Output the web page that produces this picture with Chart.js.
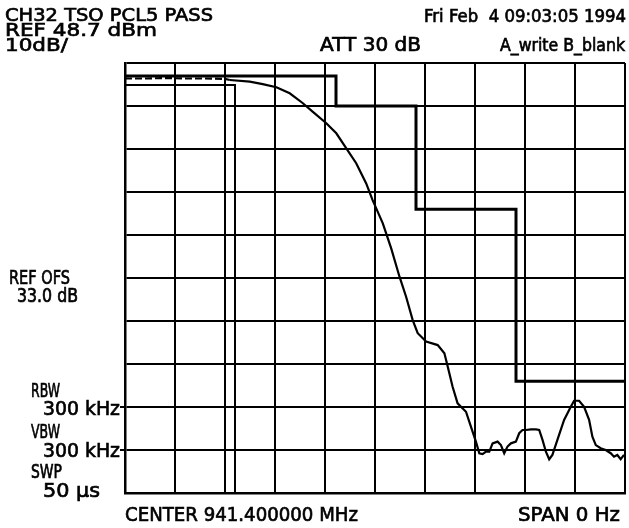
<!DOCTYPE html>
<html>
<head>
<meta charset="utf-8">
<script src="https://cdn.jsdelivr.net/npm/chart.js@4"></script>
<style>
  html, body { margin: 0; padding: 0; background: #fff; }
  canvas { display: block; }
</style>
</head>
<body>
<canvas id="saChart" width="629" height="528"></canvas>
<script>
// zero span sweep: x is time in microseconds (50 us sweep), y is level in dBm
const refLevel = 48.7;
const dbPerDiv = 10;
const sweepUs = 50;

const timeUs = [0, 2, 4, 6, 8, 10, 10.48, 12.48, 13.77, 15.14, 16.47, 17.76, 18.76, 20.13, 21.13, 22.13,
    23.12, 24.12, 24.75, 25.78, 26.62, 27.45, 28.11, 28.77, 29.27, 30.11, 31.27, 31.94, 32.27, 32.76,
    33.26, 34.1, 34.6, 35.1, 35.43, 35.76, 36.1, 36.43, 36.76, 37.26, 37.59, 37.92, 38.25, 38.59,
    39.09, 39.42, 39.75, 40.09, 40.59, 41.09, 41.42, 41.75, 42.09, 42.42, 42.74, 43.24, 43.91, 44.58,
    44.91, 45.41, 45.91, 46.41, 46.74, 47.08, 47.57, 48.07, 48.57, 48.9, 49.23, 49.57, 49.9];
const traceDbm = [45.1, 45.1, 45.2, 45.1, 45.1, 45.0, 44.75, 44.35, 43.8, 43.05, 41.65, 39.4, 37.4, 34.7, 32.35, 28.85,
    25.4, 20.7, 16.85, 11.4, 5.6, -1.0, -5.65, -11.1, -14.15, -16.1, -16.9, -18.8, -21.9, -26.6,
    -30.45, -32.4, -35.9, -39.4, -42.05, -42.25, -41.7, -41.7, -39.75, -39.35, -40.15, -42.05, -40.5, -39.75,
    -39.35, -37.4, -36.65, -36.65, -36.5, -36.5, -36.65, -38.95, -41.7, -43.45, -42.45, -38.95, -34.3, -31.25,
    -29.85, -29.85, -31.25, -34.3, -38.2, -40.15, -40.9, -41.3, -42.05, -42.85, -42.45, -43.45, -42.45];

// limit masks
const upperLimitUs = [0, 21.1, 21.1, 29.1, 29.1, 39.1, 39.1, 50];
const upperLimitDbm = [45.7, 45.7, 38.7, 38.7, 14.7, 14.7, -25.3, -25.3];
const lowerLimitUs = [0, 11.0, 11.0];
const lowerLimitDbm = [43.6, 43.6, -51.3];

// annotation text: [text, x, baseline, size, width, align]
const annotations = [
    ["CH32 TSO PCL5 PASS", 5, 21, 18.5, 208, "left"],
    ["REF 48.7 dBm", 5, 36, 18.5, 152, "left"],
    ["10dB/", 5, 51, 18.5, 63, "left"],
    ["Fri Feb  4 09:03:05 1994", 626, 22, 18, 202, "right"],
    ["ATT 30 dB", 320, 51, 19.5, 101, "left"],
    ["A_write B_blank", 625, 51, 18, 125, "right"],
    ["REF OFS", 9, 284, 19, 61, "left"],
    ["33.0 dB", 17, 302, 19, 61, "left"],
    ["RBW", 31, 397, 19, 29, "left"],
    ["300 kHz", 43, 415, 20, 77, "left"],
    ["VBW", 31, 438, 19, 29, "left"],
    ["300 kHz", 43, 457, 20, 77, "left"],
    ["SWP", 31, 478, 19, 31, "left"],
    ["50 \u00b5s", 43, 497, 20, 57, "left"],
    ["CENTER 941.400000 MHz", 125, 521, 20, 233, "left"],
    ["SPAN 0 Hz", 620, 521, 20, 102, "right"]
];

const toPoints = (xs, ys) => xs.map((x, i) => ({ x: x, y: ys[i] }));

const textPlugin = {
    id: "hpText",
    afterDraw(chart) {
        const ctx = chart.ctx;
        ctx.save();
        ctx.fillStyle = "#000";
        ctx.strokeStyle = "#000";
        ctx.textBaseline = "alphabetic";
        annotations.forEach(([str, x, y, size, width, align]) => {
            ctx.font = size + "px 'DejaVu Sans'";
            const natural = ctx.measureText(str).width;
            const sx = width / natural;
            ctx.save();
            ctx.translate(align === "right" ? x - width : x, y);
            ctx.scale(sx, 1);
            ctx.textAlign = "left";
            ctx.lineWidth = 0.7;
            ctx.fillText(str, 0, 0);
            ctx.strokeText(str, 0, 0);
            ctx.restore();
        });
        ctx.restore();
    }
};

document.addEventListener("DOMContentLoaded", () => {
    const ctx = document.getElementById("saChart").getContext("2d");
    new Chart(ctx, {
        type: "line",
        data: {
            datasets: [
                {
                    label: "Upper limit",
                    data: toPoints(upperLimitUs, upperLimitDbm),
                    borderColor: "#000",
                    borderWidth: 3,
                    pointRadius: 0,
                    fill: false,
                },
                {
                    label: "Lower limit",
                    data: toPoints(lowerLimitUs, lowerLimitDbm),
                    borderColor: "#000",
                    borderWidth: 2,
                    pointRadius: 0,
                    fill: false,
                },
                {
                    label: "Trace A",
                    data: toPoints(timeUs, traceDbm),
                    borderColor: "#000",
                    borderWidth: 2.2,
                    pointRadius: 0,
                    tension: 0,
                    fill: false,
                    segment: {
                        borderDash: c => c.p1.parsed.x <= 10.48 ? [7, 3] : undefined,
                    },
                },
            ],
        },
        options: {
            responsive: false,
            animation: false,
            layout: { padding: { left: 120, right: 4, top: 63, bottom: 35 } },
            plugins: {
                legend: { display: false },
                tooltip: { enabled: false },
            },
            scales: {
                x: {
                    type: "linear",
                    min: 0,
                    max: sweepUs,
                    ticks: { display: false, stepSize: sweepUs / 10 },
                    grid: { color: "#000", lineWidth: 2, drawTicks: false },
                    border: { color: "#000", width: 2.5 },
                },
                y: {
                    type: "linear",
                    min: refLevel - 10 * dbPerDiv,
                    max: refLevel,
                    afterBuildTicks: axis => {
                        axis.ticks = [];
                        for (let i = 0; i <= 10; i++) axis.ticks.push({ value: refLevel - i * dbPerDiv });
                    },
                    ticks: { display: false },
                    grid: {
                        color: "#000",
                        lineWidth: 2,
                        drawTicks: true,
                        tickLength: 5,
                        // only the RBW / VBW rows carry a stub outside the graticule
                        tickColor: c => (c.index === 8 || c.index === 9) ? "#000" : "rgba(0,0,0,0)",
                    },
                    border: { color: "#000", width: 2.5 },
                },
            },
        },
        plugins: [textPlugin],
    });
});
</script>
</body>
</html>
